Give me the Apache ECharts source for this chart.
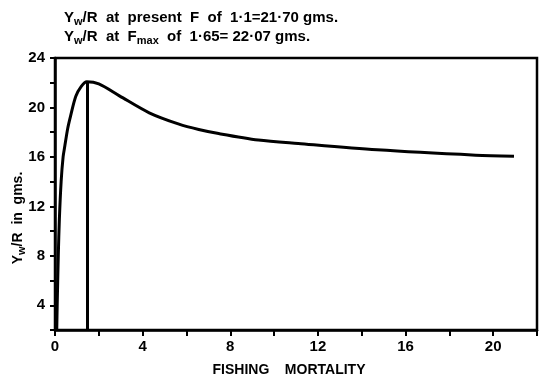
<!DOCTYPE html>
<html>

<head>
    <meta charset="utf8">
    <script src="https://cdn.jsdelivr.net/npm/echarts@6/dist/echarts.min.js"></script>
    <style>
        html, body { margin: 0; padding: 0; background: #fff; }
        #main { width: 540px; height: 382px; }
    </style>
</head>

<body>
    <div id="main"></div>
    <script type="text/javascript">
        // yield per recruit curve
        var fishingMortality = [0.08, 0.1, 0.15, 0.2, 0.28, 0.37, 0.45, 0.58, 0.71, 0.95, 1.2, 1.45, 2.0, 2.94, 4.3, 5.66, 6.56, 7.47, 9.28, 11.1, 14.7, 19.2, 20.95];
        var yieldPerRecruit = [2.0, 4.0, 8.0, 11.0, 14.0, 16.0, 16.9, 18.3, 19.3, 20.9, 21.7, 22.07, 21.9, 20.94, 19.57, 18.65, 18.22, 17.89, 17.37, 17.08, 16.57, 16.14, 16.05];
        var fMax = 1.45;
        var yieldMax = 22.07;
        var xTicks = [0, 4, 8, 12, 16, 20];
        var yTicks = [4, 8, 12, 16, 20, 24];
        var titleLines = [
            '{b|Y}{s|w}{b|/R  at  present  F  of  1·1=21·70 gms.}',
            '{b|Y}{s|w}{b|/R  at  F}{s|max}{b|  of  1·65= 22·07 gms.}'
        ];
        var yName = '{b|Y}{s|w}{b|/R  in  gms.}';
        var xName = 'FISHING    MORTALITY';

        var font = '"Liberation Sans", Arial, sans-serif';
        var richTitle = {
            b: { fontSize: 15, fontWeight: 'bold', fontFamily: font, color: '#000' },
            s: { fontSize: 11, fontWeight: 'bold', fontFamily: font, color: '#000', padding: [8, 0, 0, 0] }
        };
        var richYName = {
            b: { fontSize: 14, fontWeight: 'bold', fontFamily: font, color: '#000' },
            s: { fontSize: 11, fontWeight: 'bold', fontFamily: font, color: '#000', padding: [8, 0, 0, 0] }
        };

        var points = [];
        for (var i = 0; i < fishingMortality.length; i++) {
            points.push([fishingMortality[i], yieldPerRecruit[i]]);
        }

        var chart = echarts.init(document.getElementById('main'), null, { renderer: 'canvas' });
        var option = {
            animation: false,
            backgroundColor: '#fff',
            textStyle: { fontFamily: font },
            graphic: [
                { type: 'text', left: 64, top: 10, style: { text: titleLines[0], rich: richTitle } },
                { type: 'text', left: 64, top: 29, style: { text: titleLines[1], rich: richTitle } },
                {
                    type: 'text', x: 18, y: 218, rotation: Math.PI / 2,
                    style: { text: yName, rich: richYName, align: 'center', verticalAlign: 'middle' }
                }
            ],
            grid: {
                left: 55, right: 0, top: 58, bottom: 50,
                show: true, borderColor: '#000', borderWidth: 2.5, backgroundColor: 'transparent'
            },
            xAxis: {
                type: 'value', min: 0, max: 22, interval: 2,
                name: xName, nameLocation: 'middle', nameGap: 33,
                nameTextStyle: { fontSize: 14, fontWeight: 'bold', color: '#000', fontFamily: font, padding: [0, 14, 0, 0] },
                axisLine: { lineStyle: { color: '#000', width: 2.5 } },
                axisTick: { length: 6, lineStyle: { color: '#000', width: 2 } },
                axisLabel: {
                    fontSize: 15, fontWeight: 'bold', color: '#000', margin: 9,
                    formatter: function (v) { return xTicks.indexOf(v) >= 0 ? String(v) : ''; }
                },
                splitLine: { show: false }
            },
            yAxis: {
                type: 'value', min: 2, max: 24, interval: 2,
                axisLine: { lineStyle: { color: '#000', width: 2.5 } },
                axisTick: { length: 5, lineStyle: { color: '#000', width: 2 } },
                axisLabel: {
                    fontSize: 15, fontWeight: 'bold', color: '#000', margin: 10,
                    formatter: function (v) { return yTicks.indexOf(v) >= 0 ? String(v) : ''; }
                },
                splitLine: { show: false }
            },
            series: [{
                type: 'line',
                data: points,
                smooth: 0.3,
                showSymbol: false,
                lineStyle: { color: '#000', width: 3 },
                markLine: {
                    silent: true,
                    symbol: 'none',
                    label: { show: false },
                    lineStyle: { color: '#000', width: 3, type: 'solid' },
                    data: [[{ coord: [fMax, 2] }, { coord: [fMax, yieldMax] }]]
                }
            }]
        };
        chart.setOption(option);
    </script>
</body>

</html>
